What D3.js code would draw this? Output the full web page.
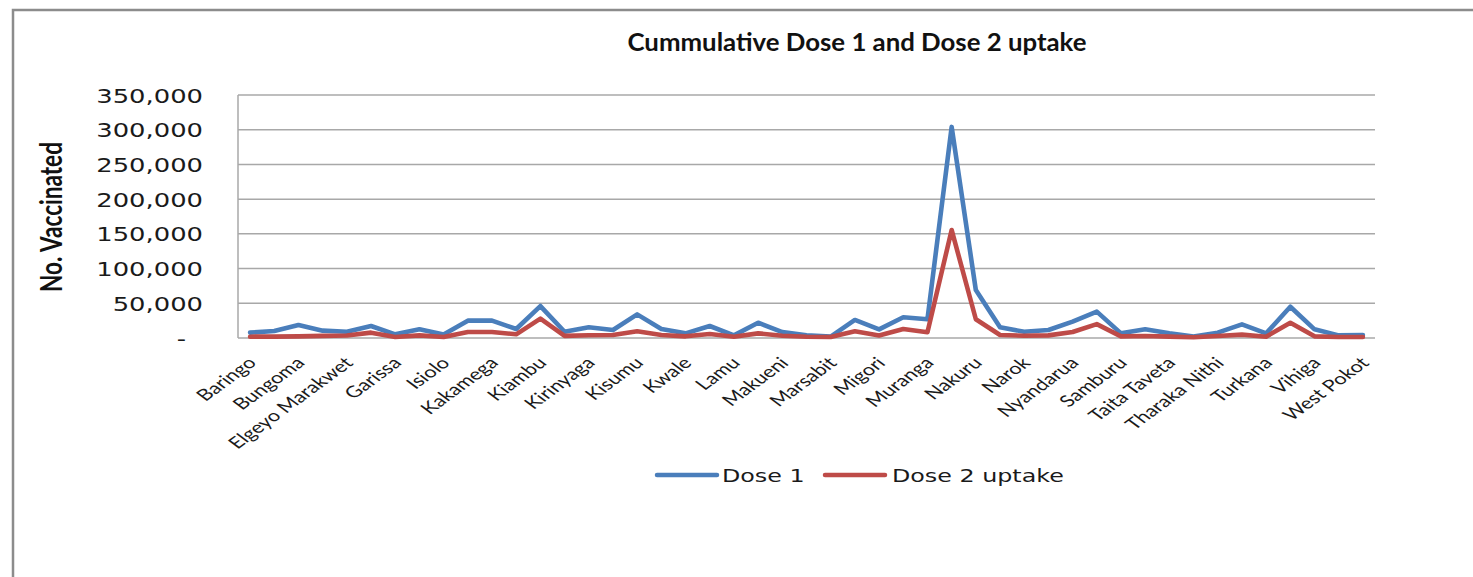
<!DOCTYPE html>
<html>
<head>
<meta charset="utf-8">
<script src="https://cdn.jsdelivr.net/npm/d3@7"></script>
<style>
  html, body { margin: 0; padding: 0; background: #fff; }
  svg { display: block; }
</style>
</head>
<body>
<svg id="chart" width="1473" height="577"></svg>
<script>
const counties = ["Baringo","Bomet","Bungoma","Busia","Elgeyo Marakwet","Embu","Garissa","Homa Bay","Isiolo","Kajiado","Kakamega","Kericho","Kiambu","Kilifi","Kirinyaga","Kisii","Kisumu","Kitui","Kwale","Laikipia","Lamu","Machakos","Makueni","Mandera","Marsabit","Meru","Migori","Mombasa","Muranga","Nairobi","Nakuru","Nandi","Narok","Nyamira","Nyandarua","Nyeri","Samburu","Siaya","Taita Taveta","Tana River","Tharaka Nithi","Trans Nzoia","Turkana","Uasin Gishu","Vihiga","Wajir","West Pokot"];
const dose1 = [7700,10000,18700,10600,9000,17300,5300,12500,5000,25000,25000,13000,46000,9000,15400,11500,34000,13000,6700,17300,3800,22000,8600,3800,2000,26000,12500,29800,27000,304000,69000,15400,9000,11500,23500,38000,6700,12500,6700,2000,7700,19700,6700,45000,12500,3800,4300];
const dose2 = [1900,2000,2400,3000,3500,7700,1500,3800,1500,8600,8600,5300,27900,3000,4000,4300,9600,4300,2400,5800,1900,6700,3300,1900,1400,9600,3700,13000,8200,155600,27000,4300,3300,3800,8600,20000,2400,2900,2000,1000,2900,4800,1900,22000,2400,1500,1500];
const yTicks = [0,50000,100000,150000,200000,250000,300000,350000];
const seriesNames = ["Dose 1","Dose 2 uptake"];
const titleText = "Cummulative Dose 1 and Dose 2 uptake";
const yTitle = "No. Vaccinated";

const SX = 1.36; // horizontal stretch of the original picture
const colors = ["#4A7EBB", "#BE4B48"];
const svg = d3.select("#chart");
svg.append("rect").attr("width",1473).attr("height",577).attr("fill","#fff");

// outer frame
svg.append("rect").attr("x",13).attr("y",10).attr("width",1520).attr("height",620)
  .attr("fill","none").attr("stroke","#8c8c8c").attr("stroke-width",2.5);

const L = 238, R = 1375, T = 95, B = 338;
const x = d3.scalePoint().domain(counties).range([L, R]).padding(0.5);
const y = d3.scaleLinear().domain([0, 350000]).range([B, T]);

// gridlines
svg.append("g").selectAll("line").data(yTicks.filter(d => d > 0)).join("line")
  .attr("x1", L).attr("x2", R).attr("y1", d => y(d)).attr("y2", d => y(d))
  .attr("stroke", "#a8a8a8").attr("stroke-width", 1.5);
// axis lines
svg.append("line").attr("x1",L).attr("x2",L).attr("y1",T).attr("y2",B).attr("stroke","#a8a8a8").attr("stroke-width",1.5);
svg.append("line").attr("x1",L).attr("x2",R).attr("y1",B).attr("y2",B).attr("stroke","#a8a8a8").attr("stroke-width",1.5);

// y axis labels
const yAxis = svg.append("g").attr("transform", `translate(${L},0)`)
  .call(d3.axisLeft(y).tickValues(yTicks).tickSize(0).tickFormat(d => d === 0 ? "-" : d3.format(",")(d)));
yAxis.select(".domain").remove();
yAxis.selectAll("text")
  .attr("x", null).attr("dy", null)
  .attr("text-anchor", "end")
  .attr("font-family", "DejaVu Sans").attr("font-size", 19).attr("fill", "#1a1a1a")
  .attr("transform", d => `translate(${d === 0 ? -52 : -35},7) scale(${SX},1)`);

// y title
svg.append("text").text(yTitle)
  .attr("font-family", "Lato").attr("font-weight", "bold").attr("font-size", 22).attr("fill", "#111")
  .attr("text-anchor", "middle")
  .attr("textLength", 150).attr("lengthAdjust", "spacingAndGlyphs")
  .attr("transform", `translate(62,217) scale(${SX},1) rotate(-90)`);

// title
svg.append("text").text(titleText)
  .attr("x", 857).attr("y", 51)
  .attr("font-family", "Lato").attr("font-weight", "bold").attr("font-size", 24.5).attr("fill", "#111")
  .attr("text-anchor", "middle")
  .attr("textLength", 459).attr("lengthAdjust", "spacingAndGlyphs");

// x labels (every other category)
svg.append("g").selectAll("text").data(counties.filter((d, i) => i % 2 === 0)).join("text")
  .text(d => d)
  .attr("text-anchor", "end")
  .attr("font-family", "Lato").attr("font-size", 16).attr("fill", "#1a1a1a")
  .attr("dy", "0.35em")
  .attr("transform", d => `translate(${x(d) + 2},360) scale(${SX},1) rotate(-45)`);

// lines
const series = [dose1, dose2];
series.forEach((vals, k) => {
  const line = d3.line().x((d, i) => x(counties[i])).y(d => y(d));
  svg.append("path").datum(vals).attr("d", line)
    .attr("fill", "none").attr("stroke", colors[k]).attr("stroke-width", 4.6)
    .attr("stroke-linejoin", "round").attr("stroke-linecap", "round");
});

// legend
const legendPos = [{lx: 657, tx: 722}, {lx: 825, tx: 892}];
seriesNames.forEach((name, k) => {
  svg.append("line").attr("x1", legendPos[k].lx).attr("x2", legendPos[k].lx + 60)
    .attr("y1", 475).attr("y2", 475).attr("stroke", colors[k]).attr("stroke-width", 4.5)
    .attr("stroke-linecap", "round");
  svg.append("text").text(name)
    .attr("font-family", "DejaVu Sans").attr("font-size", 17.5).attr("fill", "#1a1a1a")
    .attr("transform", `translate(${legendPos[k].tx},482) scale(${SX},1)`);
});
</script>
</body>
</html>
